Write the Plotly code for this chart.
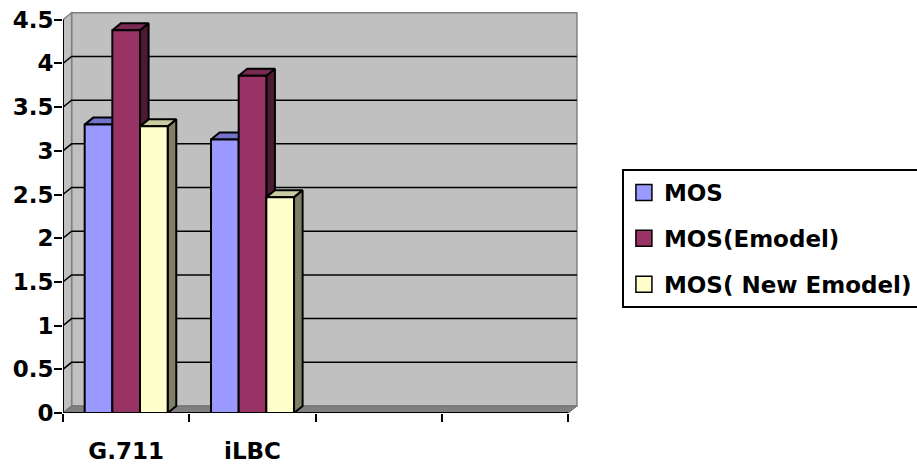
import plotly.graph_objects as go

# ---- data -------------------------------------------------------------
categories = ["G.711", "iLBC", "", ""]
series_names = ["MOS", "MOS(Emodel)", "MOS( New Emodel)"]
mos = [3.30, 3.13]
mos_emodel = [4.38, 3.86]
mos_new_emodel = [3.28, 2.47]
y_tick_values = [0, 0.5, 1, 1.5, 2, 2.5, 3, 3.5, 4, 4.5]
y_tick_labels = ["0", "0.5", "1", "1.5", "2", "2.5", "3", "3.5", "4", "4.5"]

# ---- styling ----------------------------------------------------------
front_colors = ["#9999FF", "#993366", "#FFFFCC"]
top_colors = ["#7373CC", "#7A2952", "#CCCCA3"]
side_colors = ["#4C4C80", "#4C1A33", "#808066"]
FONT = dict(family="DejaVu Sans", size=23, color="black", weight="bold")

# pseudo-3D depth offset, in axis units
DX = 0.068
DY = 0.08
BARGAP = 0.343

series_values = [mos, mos_emodel, mos_new_emodel]
n_series = len(series_values)
bar_w = (1 - BARGAP) / n_series
x_lo, x_hi = -0.5, len(categories) - 0.5
y_top = y_tick_values[-1]


def faces(i, values):
    """Front, top and side polygons of every column of series i."""
    front_x, front_y, top_x, top_y, side_x, side_y = [], [], [], [], [], []
    for j, v in enumerate(values):
        xc = j + (i - (n_series - 1) / 2) * bar_w
        x0, x1 = xc - bar_w / 2, xc + bar_w / 2
        front_x += [x0, x1, x1, x0, x0, None]
        front_y += [0, 0, v, v, 0, None]
        top_x += [x0, x1, x1 + DX, x0 + DX, x0, None]
        top_y += [v, v, v + DY, v + DY, v, None]
        side_x += [x1, x1 + DX, x1 + DX, x1, x1, None]
        side_y += [0, DY, v + DY, v, 0, None]
    return (front_x, front_y), (top_x, top_y), (side_x, side_y)


fig = go.Figure()

for i, (name, values) in enumerate(zip(series_names, series_values)):
    front, top, side = faces(i, values)
    for (xs, ys), color in ((side, side_colors[i]), (top, top_colors[i])):
        fig.add_trace(go.Scatter(
            x=xs, y=ys, mode="lines", fill="toself", fillcolor=color,
            line=dict(color="black", width=2), showlegend=False,
            hoverinfo="skip"))
    fig.add_trace(go.Scatter(
        x=front[0], y=front[1], mode="lines", fill="toself",
        fillcolor=front_colors[i], line=dict(color="black", width=2),
        name=name, showlegend=False, hoverinfo="skip"))

# legend swatches
for i, name in enumerate(series_names):
    fig.add_trace(go.Scatter(
        x=[None], y=[None], mode="markers", name=name, legendgroup=name,
        marker=dict(symbol="square", size=16, color=front_colors[i],
                    line=dict(color="black", width=1.5))))

# ---- walls, floor, gridlines -------------------------------------------
shapes = [
    dict(type="rect", xref="x", yref="y", x0=x_lo + DX, x1=x_hi + DX,
         y0=DY, y1=y_top + DY, fillcolor="#C0C0C0",
         line=dict(color="#808080", width=1.5), layer="below"),
    dict(type="path", xref="x", yref="y",
         path=f"M {x_lo},0 L {x_lo + DX},{DY} L {x_lo + DX},{y_top + DY} L {x_lo},{y_top} Z",
         fillcolor="#C0C0C0", line=dict(color="#808080", width=1.5), layer="below"),
    dict(type="path", xref="x", yref="y",
         path=f"M {x_lo},0 L {x_hi},0 L {x_hi + DX},{DY} L {x_lo + DX},{DY} Z",
         fillcolor="#808080", line=dict(color="#6E6E6E", width=1), layer="below"),
]
for k in y_tick_values[1:-1]:
    shapes.append(dict(
        type="path", xref="x", yref="y",
        path=f"M {x_lo},{k} L {x_lo + DX},{k + DY} L {x_hi + DX},{k + DY}",
        line=dict(color="black", width=1.5), layer="below"))
shapes += [
    dict(type="line", xref="x", yref="y", x0=x_lo, x1=x_hi, y0=0, y1=0,
         line=dict(color="black", width=2), layer="above"),
    dict(type="line", xref="x", yref="y", x0=x_lo, x1=x_lo, y0=0, y1=y_top,
         line=dict(color="black", width=2), layer="above"),
]

fig.update_layout(
    width=917, height=466,
    margin=dict(l=63, r=336, t=11, b=53, autoexpand=False),
    paper_bgcolor="white", plot_bgcolor="white",
    font=FONT,
    shapes=shapes,
    showlegend=True,
    legend=dict(
        x=1.079, y=0.607, xanchor="left", yanchor="top",
        bordercolor="black", borderwidth=2, bgcolor="white",
        font=FONT, tracegroupgap=13, itemclick=False,
    ),
    xaxis=dict(
        range=[x_lo, x_hi + 0.1], tickmode="array",
        tickvals=list(range(len(categories))), ticktext=categories,
        ticks="", showline=False, showgrid=False, zeroline=False,
        tickfont=FONT, ticklabelstandoff=22, fixedrange=True,
        minor=dict(tickmode="array",
                   tickvals=[x_lo + j for j in range(len(categories) + 1)],
                   ticks="outside", ticklen=8, tickwidth=2, tickcolor="black"),
    ),
    yaxis=dict(
        range=[0, 4.6], tickmode="array", tickvals=y_tick_values,
        ticktext=y_tick_labels, ticks="outside", ticklen=8, tickwidth=2,
        tickcolor="black", showline=False, showgrid=False, zeroline=False,
        tickfont=FONT, ticklabelstandoff=-4, fixedrange=True,
    ),
)

fig.write_html("out.html")
